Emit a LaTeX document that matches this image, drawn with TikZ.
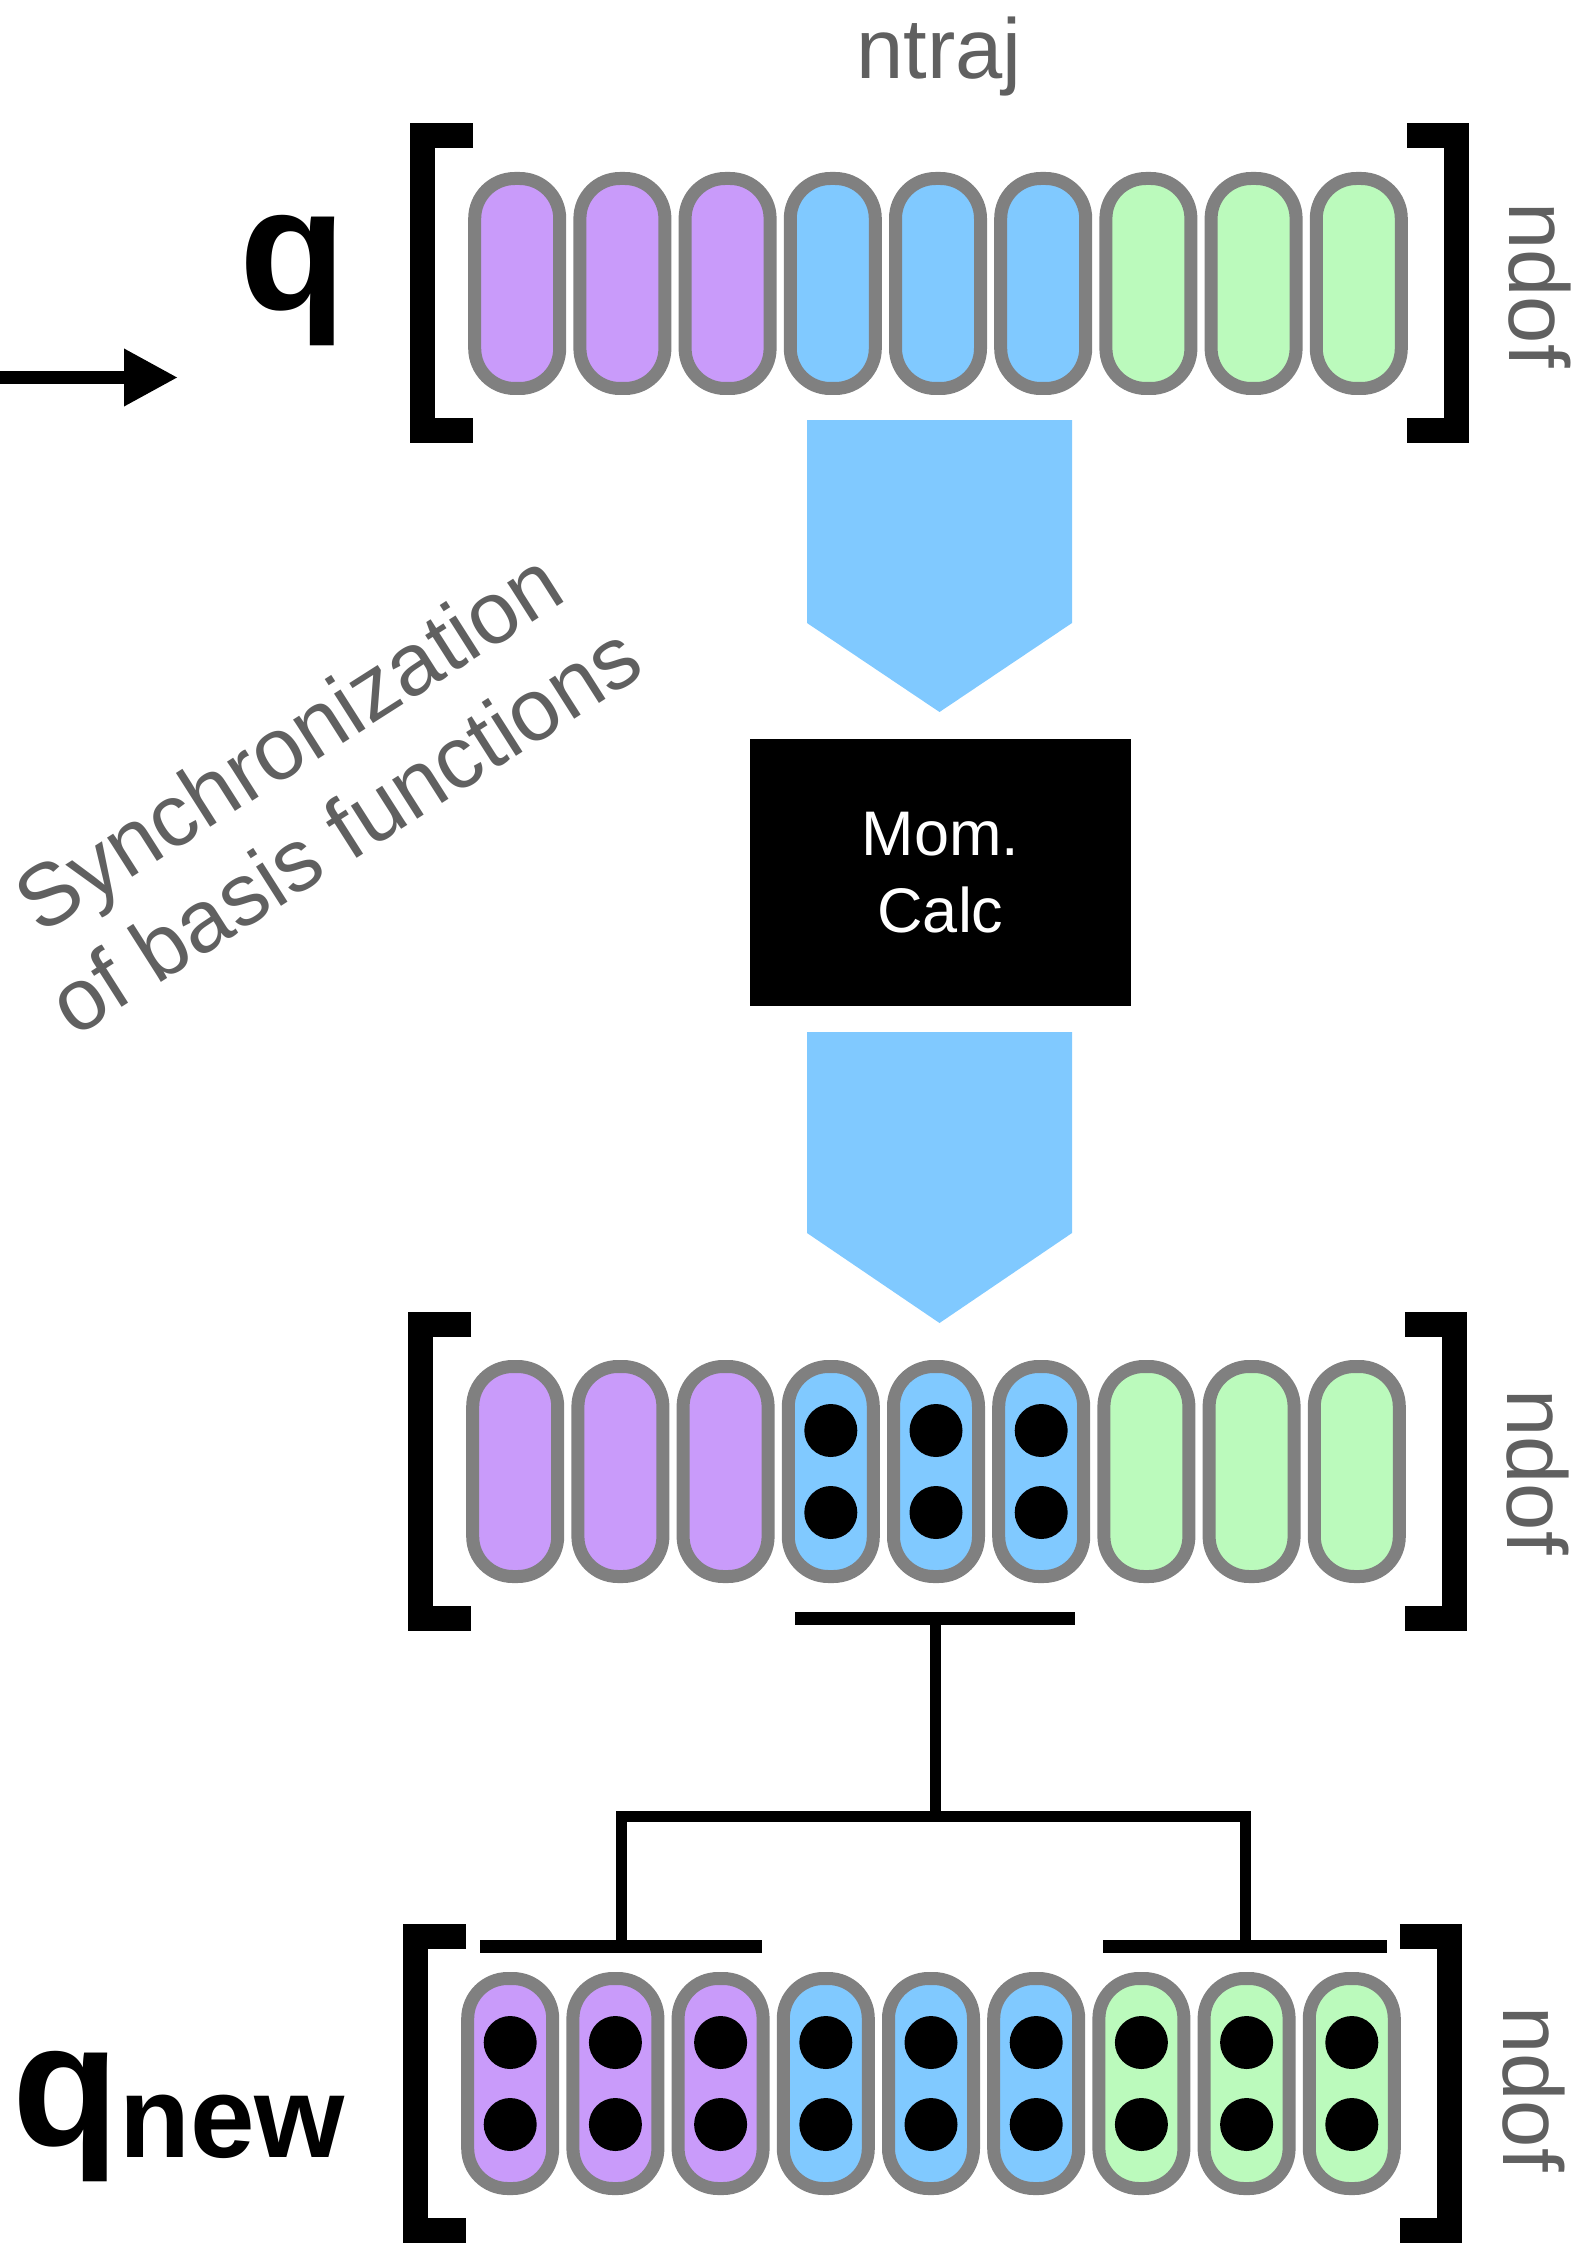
\documentclass[tikz,border=0pt]{standalone}
\usepackage{fontspec}
\setmainfont{Liberation Sans}
\usetikzlibrary{matrix,positioning,calc,arrows.meta}
\definecolor{vio}{RGB}{201,155,250}
\definecolor{sky}{RGB}{128,201,255}
\definecolor{mint}{RGB}{187,250,188}
\definecolor{rim}{RGB}{128,128,128}
\definecolor{lgray}{RGB}{96,96,96}
\tikzstyle{arrow} = [line width=6.5pt, -{Triangle[length=27pt,width=27pt]}]
\tikzset{
    pill/.style={
        rectangle, rounded corners=20pt,
        minimum width=42.5pt, minimum height=105pt,
        inner sep=0pt, draw=rim, line width=6.5pt
    },
    vp/.style={pill, fill=vio},
    bp/.style={pill, fill=sky},
    gp/.style={pill, fill=mint},
    beads/.style={
        path picture={
            \fill[black] ([yshift=20.5pt]path picture bounding box.center) circle (13.25pt);
            \fill[black] ([yshift=-20.5pt]path picture bounding box.center) circle (13.25pt);
        }
    },
    row/.style={
        matrix of nodes,
        column sep=3.6pt,
        inner sep=0pt, outer sep=0pt
    },
    bracket/.style={
        line width=12.5pt
    },
    tree/.style={
        line width=6.5pt
    },
    stem/.style={
        line width=5.5pt
    },
    dim/.style={
        inner sep=0pt, text=lgray,
        font=\fontsize{42.5}{50.5}\selectfont
    },
    vec/.style={
        inner sep=0pt,
        font=\fontsize{87.5}{90}\selectfont\bfseries
    },
    block/.style={
        rectangle, fill=black, text=white, align=center,
        minimum width=190.5pt, minimum height=133.5pt,
        font=\fontsize{31.5}{38.5}\selectfont
    },
    fatarrow/.style={
        fill=sky
    }
}

\begin{document}
\begin{tikzpicture}[x=0.5pt, y=-0.5pt]
    \useasboundingbox (0,0) rectangle (1588,2247);

    % input vector q
    \matrix (qrow) [row] at (938,283.5) {
        |[vp]| {} & |[vp]| {} & |[vp]| {} & |[bp]| {} & |[bp]| {} & |[bp]| {} & |[gp]| {} & |[gp]| {} & |[gp]| {} \\
    };
    \node[dim, anchor=base] (ntraj) at (939,79) {ntraj};
    \node[dim, rotate=-90, anchor=base] (ndofq) at (1509,285) {ndof};
    \node[vec, anchor=base] (qlab) at (293,310) {q};
    \draw[bracket] ($(qrow.north west)+(5,-36)$) -| ($(qrow.south west)+(-46,35)$) -- ++(51,0);
    \draw[bracket] ($(qrow.north east)+(-1,-36)$) -| ($(qrow.south east)+(49,35)$) -- ++(-50,0);

    \coordinate (src) at (0,377.5);
    \coordinate (dst) at (178,377.5);
    \draw[arrow] (src) -- (dst);

    \node[dim, rotate=32.5, align=center, font=\fontsize{44}{52}\selectfont] (sync) at (316,785) {Synchronization\\of basis functions};

    % momentum step
    \fill[fatarrow] (807,420) -- (1072,420) -- (1072,623) -- (939.5,712) -- (807,623) -- cycle;
    \node[block] (momcalc) at (940.5,872.5) {Mom.\\Calc};
    \fill[fatarrow] (807,1032) -- (1072,1032) -- (1072,1233) -- (939.5,1323) -- (807,1233) -- cycle;

    % middle vector
    \matrix (mrow) [row] at (936,1471.5) {
        |[vp]| {} & |[vp]| {} & |[vp]| {} & |[bp,beads]| {} & |[bp,beads]| {} & |[bp,beads]| {} & |[gp]| {} & |[gp]| {} & |[gp]| {} \\
    };
    \node[dim, rotate=-90, anchor=base] (ndofm) at (1507,1472) {ndof};
    \draw[bracket] ($(mrow.north west)+(5,-36)$) -| ($(mrow.south west)+(-46,35)$) -- ++(51,0);
    \draw[bracket] ($(mrow.north east)+(-1,-36)$) -| ($(mrow.south east)+(49,35)$) -- ++(-50,0);

    % split
    \coordinate (mbar) at (935,1618);
    \coordinate (fork) at (935,1816);
    \coordinate (lbar) at (621,1946);
    \coordinate (rbar) at (1245,1946);
    \draw[tree] ($(mbar)+(-140,0)$) -- ++(280,0);
    \draw[stem] (mbar) -- (fork);
    \draw[stem] (lbar) |- (fork) -| (rbar);
    \draw[tree] ($(lbar)+(-141,0)$) -- ++(282,0);
    \draw[tree] ($(rbar)+(-142,0)$) -- ++(284,0);

    % output vector q_new
    \matrix (nrow) [row] at (931,2083.5) {
        |[vp,beads]| {} & |[vp,beads]| {} & |[vp,beads]| {} & |[bp,beads]| {} & |[bp,beads]| {} & |[bp,beads]| {} & |[gp,beads]| {} & |[gp,beads]| {} & |[gp,beads]| {} \\
    };
    \node[dim, rotate=-90, anchor=base] (ndofn) at (1503,2089) {ndof};
    \draw[bracket] ($(nrow.north west)+(5,-36)$) -| ($(nrow.south west)+(-46,35)$) -- ++(51,0);
    \draw[bracket] ($(nrow.north east)+(-1,-36)$) -| ($(nrow.south east)+(49,35)$) -- ++(-50,0);
    \node[vec, anchor=base west] (qnew) at (12,2145) {q\fontsize{58}{60}\selectfont\raisebox{-6pt}{new}};
\end{tikzpicture}
\end{document}
